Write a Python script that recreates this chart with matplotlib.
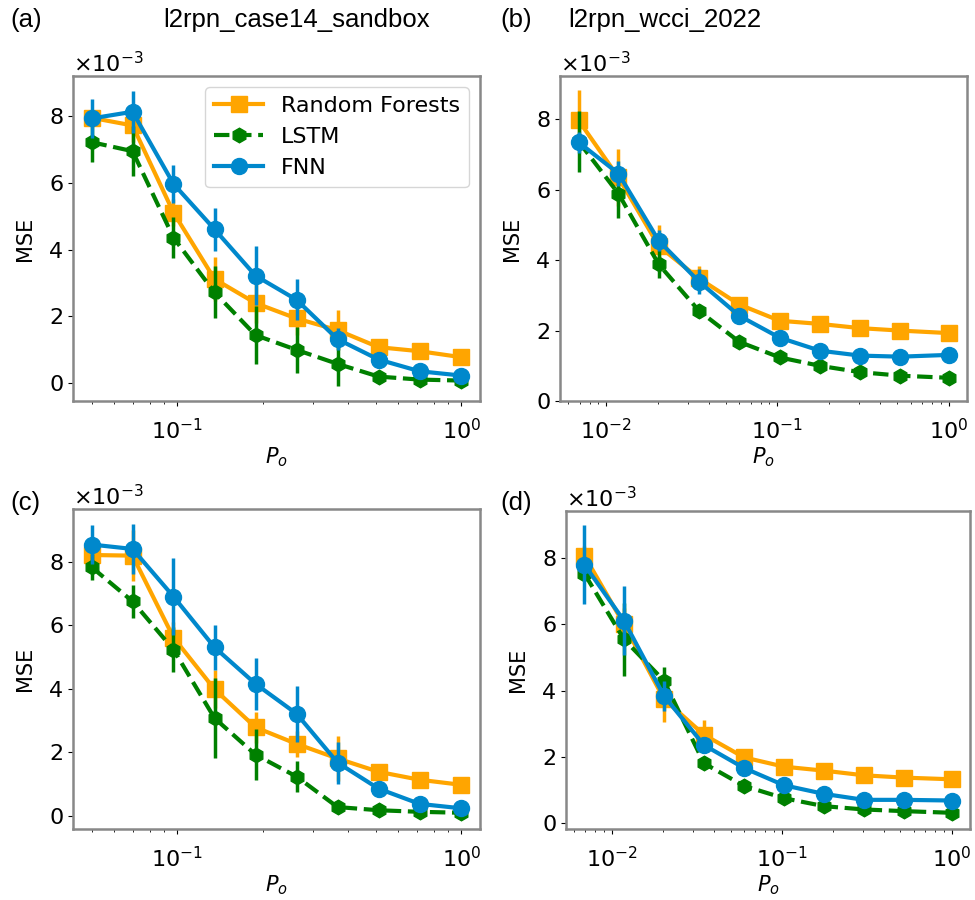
import matplotlib
matplotlib.use("Agg")
import matplotlib.pyplot as plt

# P_o values
x_case14 = [0.05, 0.0697, 0.0971, 0.1354, 0.1887, 0.2630, 0.3665, 0.5109, 0.7120, 1.0]
x_wcci = [0.0069, 0.0118, 0.0203, 0.0349, 0.0600, 0.1031, 0.1772, 0.3046, 0.5236, 1.0]

# MSE values (x1e-3) and std
rf_a = [7.95, 7.72, 5.11, 3.12, 2.40, 1.94, 1.59, 1.08, 0.96, 0.78]
lstm_a = [7.22, 6.95, 4.36, 2.72, 1.44, 1.00, 0.58, 0.20, 0.11, 0.08]
fnn_a = [7.93, 8.13, 5.97, 4.61, 3.22, 2.50, 1.32, 0.71, 0.36, 0.23]
rf_a_err = [0.15, 0.5, 0.4, 0.65, 0.6, 0.5, 0.6, 0.15, 0.1, 0.1]
lstm_a_err = [0.6, 0.74, 0.62, 0.78, 0.87, 0.68, 0.67, 0.1, 0.1, 0.08]
fnn_a_err = [0.58, 0.63, 0.56, 0.64, 0.88, 0.62, 0.33, 0.15, 0.1, 0.08]

rf_b = [7.97, 6.35, 4.40, 3.48, 2.74, 2.28, 2.19, 2.07, 2.00, 1.93]
lstm_b = [7.37, 5.89, 3.88, 2.56, 1.68, 1.24, 1.00, 0.82, 0.72, 0.66]
fnn_b = [7.35, 6.46, 4.55, 3.39, 2.42, 1.80, 1.43, 1.29, 1.26, 1.31]
rf_b_err = [0.85, 0.8, 0.6, 0.35, 0.1, 0.1, 0.1, 0.08, 0.08, 0.08]
lstm_b_err = [0.87, 0.7, 0.4, 0.2, 0.1, 0.08, 0.06, 0.05, 0.05, 0.05]
fnn_b_err = [0.3, 0.35, 0.3, 0.35, 0.15, 0.1, 0.08, 0.06, 0.06, 0.06]

rf_c = [8.22, 8.20, 5.62, 3.99, 2.79, 2.27, 1.81, 1.39, 1.14, 0.98]
lstm_c = [7.84, 6.76, 5.24, 3.08, 1.93, 1.24, 0.28, 0.18, 0.13, 0.10]
fnn_c = [8.55, 8.41, 6.91, 5.31, 4.16, 3.22, 1.68, 0.86, 0.38, 0.24]
rf_c_err = [0.2, 0.8, 0.5, 0.6, 0.5, 0.4, 0.72, 0.15, 0.1, 0.1]
lstm_c_err = [0.4, 0.53, 0.72, 1.27, 0.8, 0.5, 0.1, 0.08, 0.05, 0.05]
fnn_c_err = [0.6, 0.8, 1.2, 0.7, 0.83, 0.88, 0.66, 0.15, 0.1, 0.08]

rf_d = [8.07, 6.00, 3.75, 2.67, 1.99, 1.71, 1.59, 1.45, 1.38, 1.33]
lstm_d = [7.53, 5.55, 4.30, 1.81, 1.13, 0.76, 0.52, 0.42, 0.37, 0.32]
fnn_d = [7.80, 6.11, 3.84, 2.36, 1.67, 1.15, 0.89, 0.71, 0.71, 0.69]
rf_d_err = [0.3, 0.5, 0.7, 0.45, 0.15, 0.1, 0.1, 0.1, 0.08, 0.08]
lstm_d_err = [0.2, 1.1, 0.4, 0.15, 0.1, 0.08, 0.06, 0.05, 0.05, 0.05]
fnn_d_err = [1.18, 1.04, 0.45, 0.25, 0.15, 0.1, 0.08, 0.06, 0.06, 0.06]

panels = [
    (x_case14, rf_a, rf_a_err, lstm_a, lstm_a_err, fnn_a, fnn_a_err),
    (x_wcci, rf_b, rf_b_err, lstm_b, lstm_b_err, fnn_b, fnn_b_err),
    (x_case14, rf_c, rf_c_err, lstm_c, lstm_c_err, fnn_c, fnn_c_err),
    (x_wcci, rf_d, rf_d_err, lstm_d, lstm_d_err, fnn_d, fnn_d_err),
]

# axes boxes [left, bottom, width, height] in figure fraction
boxes = [
    [0.0749, 0.5544, 0.4174, 0.3612],
    [0.5744, 0.5544, 0.4174, 0.3612],
    [0.0749, 0.0790, 0.4174, 0.3554],
    [0.5805, 0.0790, 0.4144, 0.3532],
]

ORANGE = "#FFA500"
GREEN = "#008000"
BLUE = "#0088CC"
scale = 1e-3


def draw(ax, x, y, err, color, marker, ms, ls, label):
    yv = [v * scale for v in y]
    ax.errorbar(x, yv, yerr=[e * scale for e in err], fmt="none",
                ecolor=color, elinewidth=2.5, capsize=0)
    ax.plot(x, yv, color=color, marker=marker, markersize=ms,
            linewidth=3, linestyle=ls, label=label)


fig = plt.figure(figsize=(9.75, 9), dpi=100)

for i, (x, rf, rf_e, ls, ls_e, fn, fn_e) in enumerate(panels):
    ax = fig.add_axes(boxes[i])
    draw(ax, x, rf, rf_e, ORANGE, "s", 11.5, "-", "Random Forests")
    draw(ax, x, ls, ls_e, GREEN, "h", 10.5, "--", "LSTM")
    draw(ax, x, fn, fn_e, BLUE, "o", 11.5, "-", "FNN")
    ax.set_xscale("log")
    ax.set_yticks([0, 2e-3, 4e-3, 6e-3, 8e-3])
    ax.ticklabel_format(axis="y", style="sci", scilimits=(0, 0), useMathText=True)
    ax.tick_params(labelsize=16)
    ax.tick_params(axis="x", which="major", pad=8.5)
    ax.yaxis.get_offset_text().set_fontsize(16)
    ax.set_xlabel("$P_o$", fontsize=15, labelpad=2)
    ax.set_ylabel("MSE", fontsize=15, labelpad=10)
    for sp in ax.spines.values():
        sp.set_color("#888888")
        sp.set_linewidth(1.8)
    if i == 0:
        ax.legend(fontsize=16, loc="upper right", handlelength=2.2)

title_font = dict(family="Liberation Sans", fontsize=18.5)
fig.text(297 / 975, 1 - 20 / 900, "l2rpn_case14_sandbox", ha="center", va="center", **title_font)
fig.text(665 / 975, 1 - 20 / 900, "l2rpn_wcci_2022", ha="center", va="center", **title_font)
fig.text(10 / 975, 1 - 20 / 900, "(a)", ha="left", va="center", **title_font)
fig.text(500 / 975, 1 - 20 / 900, "(b)", ha="left", va="center", **title_font)
fig.text(10 / 975, 1 - 503 / 900, "(c)", ha="left", va="center", **title_font)
fig.text(500 / 975, 1 - 503 / 900, "(d)", ha="left", va="center", **title_font)

fig.savefig("out.png", dpi=100)
